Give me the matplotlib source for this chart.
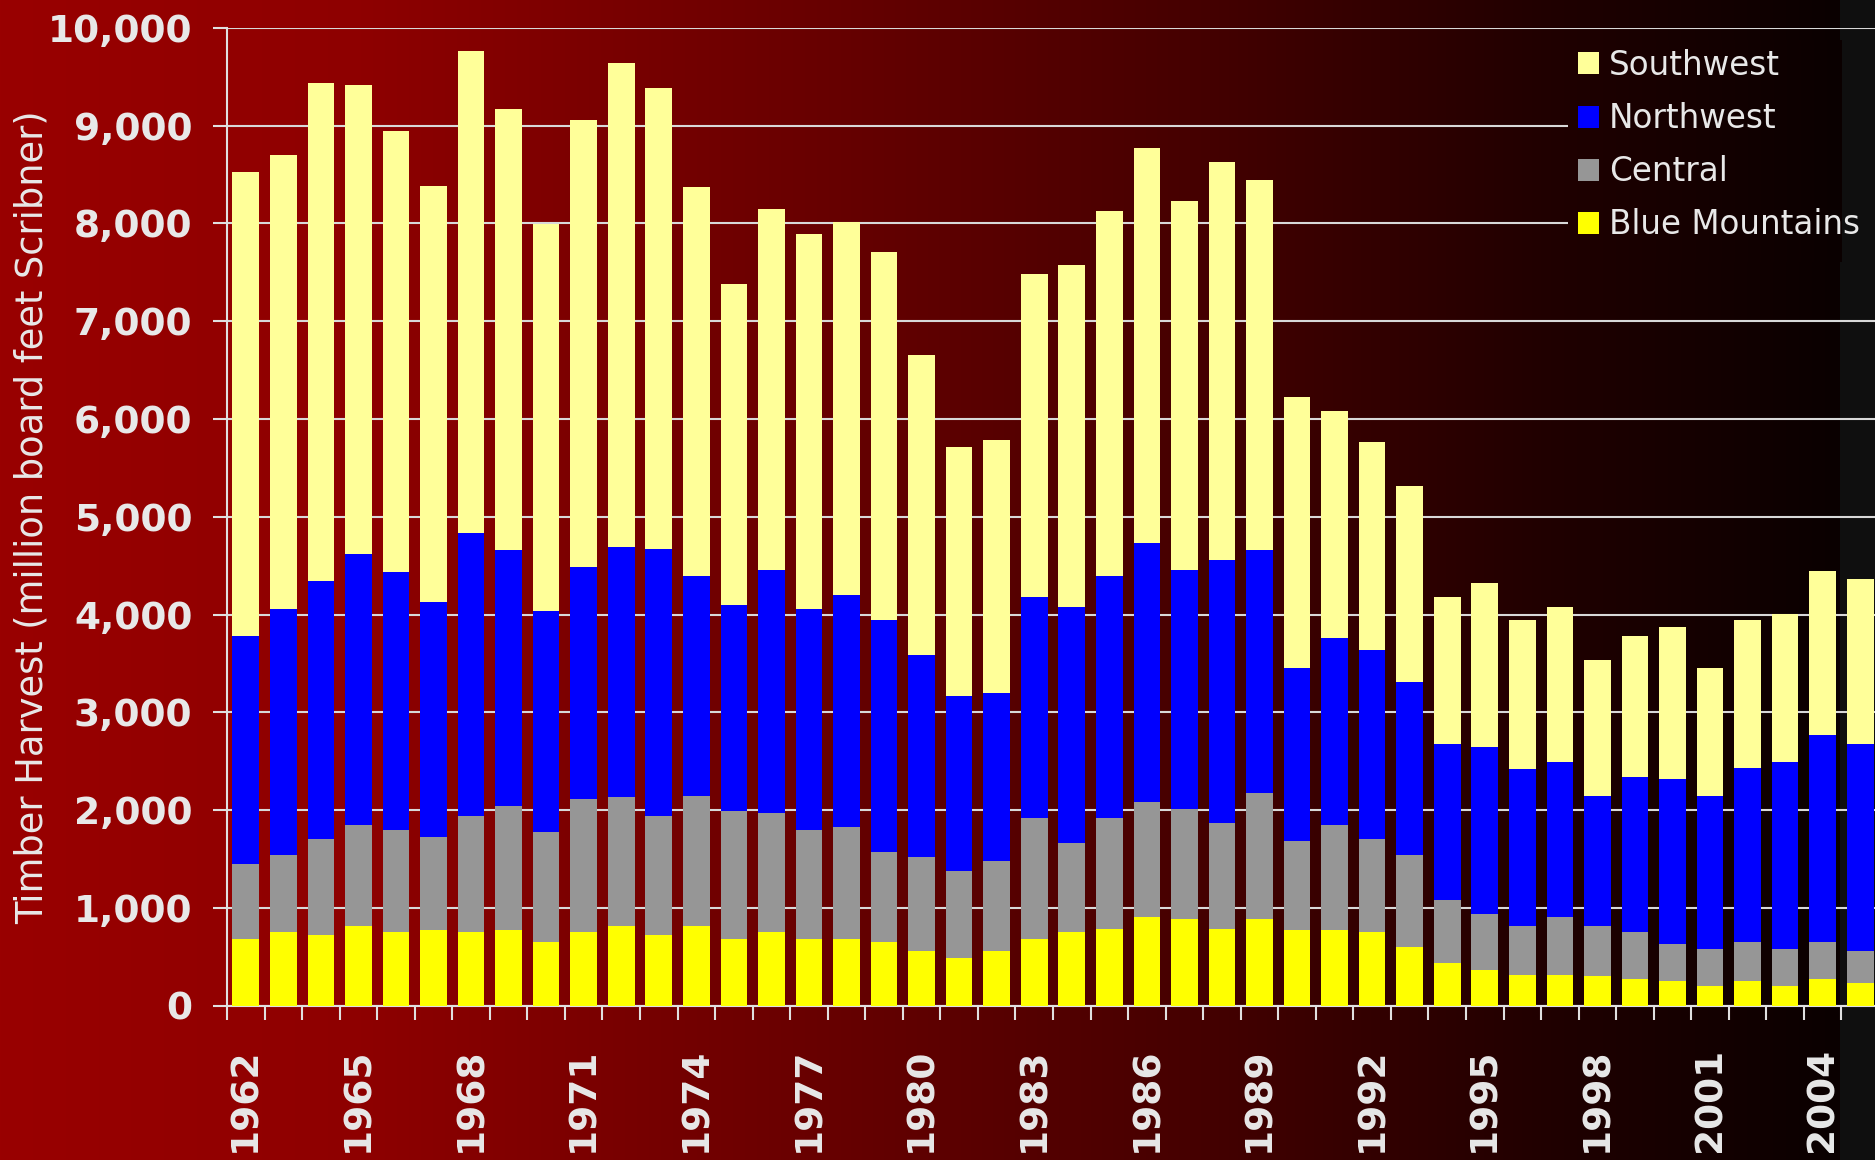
import numpy as np
import matplotlib
matplotlib.use("Agg")
import matplotlib.pyplot as plt
from matplotlib.ticker import FuncFormatter

years = list(range(1962, 2006))
blue_mountains = [680, 750, 720, 820, 750, 770, 750, 770, 650, 750, 820,
                  720, 820, 680, 750, 680, 680, 650, 560, 490, 560, 680,
                  750, 790, 910, 890, 790, 890, 770, 770, 750, 600, 440,
                  370, 320, 320, 300, 270, 250, 200, 250, 200, 270, 230]
central = [770, 790, 990, 1030, 1050, 960, 1190, 1270, 1130, 1360, 1310,
           1220, 1330, 1310, 1220, 1120, 1150, 920, 960, 890, 920, 1240,
           910, 1130, 1170, 1120, 1080, 1290, 910, 1080, 960, 940, 640,
           570, 500, 590, 520, 480, 380, 380, 400, 380, 380, 330]
northwest = [2330, 2520, 2630, 2770, 2640, 2400, 2890, 2620, 2260, 2380, 2560,
             2730, 2240, 2110, 2490, 2260, 2370, 2370, 2070, 1790, 1720, 2260,
             2420, 2470, 2650, 2450, 2690, 2480, 1770, 1910, 1930, 1770, 1600,
             1710, 1600, 1580, 1330, 1590, 1690, 1570, 1780, 1910, 2120, 2120]
southwest = [4740, 4640, 5090, 4790, 4500, 4250, 4930, 4510, 3950, 4570, 4950,
             4710, 3980, 3280, 3690, 3830, 3810, 3770, 3060, 2540, 2580, 3300,
             3490, 3740, 4040, 3770, 4070, 3780, 2770, 2320, 2120, 2000, 1500,
             1670, 1520, 1590, 1390, 1440, 1550, 1300, 1510, 1520, 1680, 1680]
series_names = ["Blue Mountains", "Central", "Northwest", "Southwest"]
series_colors = ["#FFFF00", "#969696", "#0000FF", "#FFFF99"]
label_years = years[::3]
y_ticks = list(range(0, 10001, 1000))

TXT = "#E8E8E8"
W, H = 1875, 1160
fig = plt.figure(figsize=(W / 100, H / 100), dpi=100)

# background gradient
px = np.arange(W)
cx = [0, 360, 840, 1200, 1550, 1838]
cr = [153, 142, 102, 69, 32, 10]
r = np.interp(px, cx, cr) / 255.0
img = np.zeros((2, W, 3))
img[:, :, 0] = r
img[:, px >= 1840, :] = 15 / 255.0

bg = fig.add_axes([0, 0, 1, 1], zorder=-10)
bg.imshow(img, aspect="auto", extent=[0, W, 0, 1], interpolation="nearest")
bg.set_xlim(0, W)
bg.set_axis_off()

ax = fig.add_axes([227 / W, 1 - 1005.8 / H, (1879 - 227) / W, (1005.8 - 27.7) / H],
                  zorder=0)
ax.set_facecolor("none")

x = np.arange(len(years))
bottom = np.zeros(len(years))
handles = []
for vals, name, col in zip([blue_mountains, central, northwest, southwest],
                           series_names, series_colors):
    b = ax.bar(x, vals, width=0.71, bottom=bottom, color=col, label=name,
               zorder=3, linewidth=0)
    handles.append(b)
    bottom = bottom + np.array(vals)

ax.set_xlim(-0.5, len(years) - 0.5)
ax.set_ylim(0, 10000)
ax.set_yticks(y_ticks)
ax.yaxis.set_major_formatter(FuncFormatter(lambda v, p: f"{int(v):,}"))
ax.grid(axis="y", color="#D8D8D8", linewidth=1.5, zorder=1)
ax.set_axisbelow(True)

ax.set_xticks([years.index(yv) for yv in label_years])
ax.set_xticklabels([str(yv) for yv in label_years], rotation=90)
ax.set_xticks(np.arange(-0.5, len(years), 1.0), minor=True)
ax.tick_params(axis="x", which="major", length=0, pad=30, labelsize=27,
               labelcolor=TXT)
ax.tick_params(axis="x", which="minor", length=10, width=1.5, color="#E0E0E0",
               direction="out")
ax.tick_params(axis="y", which="major", length=10, width=1.5, color="#E0E0E0",
               pad=15, labelsize=27, labelcolor=TXT)
for lab in ax.get_xticklabels() + ax.get_yticklabels():
    lab.set_fontweight("bold")

for s in ["top", "right"]:
    ax.spines[s].set_visible(False)
for s in ["left", "bottom"]:
    ax.spines[s].set_color("#E0E0E0")
    ax.spines[s].set_linewidth(1.5)

ax.set_ylabel("Timber Harvest (million board feet Scribner)", fontsize=26.5,
              color=TXT, va="center")
ax.yaxis.set_label_coords((32 - 227) / 1652, 0.5)

# cover behind the legend (hides gridlines, shows the same gradient)
x0, x1, yt, yb = 1568, 1877, 40, 262
cover = fig.add_axes([x0 / W, 1 - yb / H, (x1 - x0) / W, (yb - yt) / H], zorder=1)
cover.imshow(img[:, x0:x1, :], aspect="auto", extent=[x0, x1, 0, 1],
             interpolation="nearest")
cover.set_axis_off()

leg = fig.legend(handles=handles[::-1], labels=series_names[::-1],
                 loc="upper left", bbox_to_anchor=(1568 / W, 1 - 39 / H),
                 fontsize=23.5, frameon=False,
                 handlelength=0.66, handleheight=0.66,
                 handletextpad=0.3, labelspacing=0.62, borderpad=0.3,
                 borderaxespad=0)
leg.set_zorder(10)
for t in leg.get_texts():
    t.set_color(TXT)

fig.savefig("out.png", dpi=100)
